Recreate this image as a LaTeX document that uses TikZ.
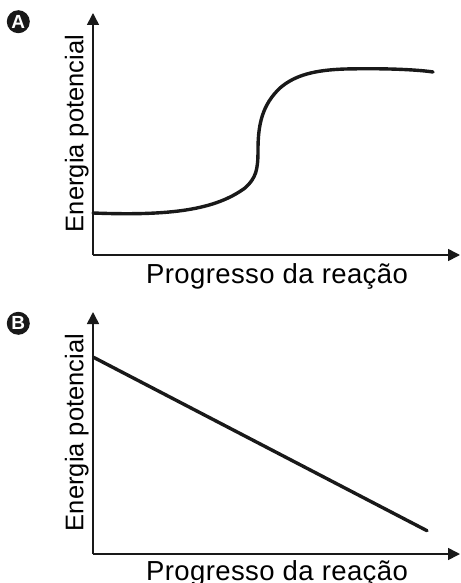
\documentclass[tikz,border=0pt]{standalone}
\usepackage{fontspec}
\setmainfont{Liberation Sans}
\usepackage{tikz}
\usetikzlibrary{arrows.meta, positioning}
\tikzset{
    axis/.style={draw=black!90, line width=1.6pt, -{Triangle[length=12pt, width=12pt]}},
    curve/.style={draw=black!90, line width=3.4pt, line cap=round},
    tag/.style={circle, fill=black!90, text=white, inner sep=0pt, minimum size=23pt, font=\fontsize{19}{19}\selectfont\bfseries},
    ylab/.style={rotate=90, anchor=base, inner sep=0pt, font=\fontsize{25.5}{30}\selectfont},
    xlab/.style={anchor=base, inner sep=0pt, font=\fontsize{27.5}{32}\selectfont\addfontfeature{LetterSpace=1.5}}
}
\begin{document}
\begin{tikzpicture}[x=1pt, y=-1pt]

    \useasboundingbox (0,0) rectangle (460,583);

    % --- PANEL A ---

    % Axes
    \coordinate (origA) at (93,255);
    \coordinate (topA) at (93,13);
    \coordinate (endA) at (460,255);
    \draw[axis] (origA) -- (topA);
    \draw[axis] (origA) -- (endA);

    \node[tag] (tagA) at (18.3,21.7) {A};
    \node[ylab] (enA) at (83.3,133.5) {Energia potencial};
    \node[xlab] (prA) at (277,283) {Progresso da reação};

    % S-shaped curve
    \coordinate (startA) at (93,213);
    \coordinate (stopA) at (433,72);
    \draw[curve] (startA) .. controls (170,216) and (215,210) .. (245,188)
        .. controls (256,178) and (258,170) .. (258,150)
        .. controls (258,125) and (262,105) .. (280,88)
        .. controls (295,75) and (315,70) .. (345,69)
        .. controls (390,68) and (420,70) .. (stopA);

    % --- PANEL B ---

    % Axes
    \coordinate (origB) at (93,554);
    \coordinate (topB) at (93,312);
    \coordinate (endB) at (460,554);
    \draw[axis] (origB) -- (topB);
    \draw[axis] (origB) -- (endB);

    \node[tag] (tagB) at (18.3,323.3) {B};
    \node[ylab] (enB) at (83.3,432.5) {Energia potencial};
    \node[xlab] (prB) at (277,580.5) {Progresso da reação};

    % Straight line
    \coordinate (startB) at (93.5,357.3);
    \coordinate (stopB) at (427,530.7);
    \draw[curve] (startB) -- (stopB);

\end{tikzpicture}
\end{document}
